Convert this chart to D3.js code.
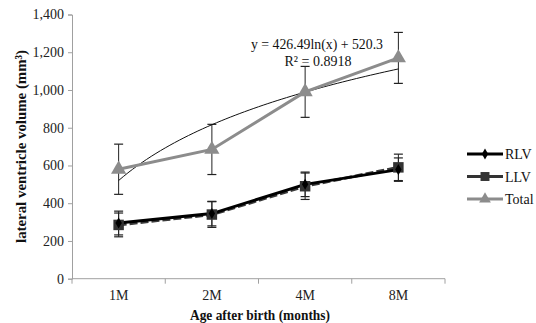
<!DOCTYPE html>
<html><head><meta charset="utf-8">
<script src="https://cdn.jsdelivr.net/npm/d3@7"></script>
<style>body{margin:0;background:#fff}</style>
</head><body>
<svg id="c" width="536" height="323"></svg>
<script>
const categories = ["1M","2M","4M","8M"];
const rlv = [295, 345, 500, 578];
const rlvErr = [63, 65, 65, 62];
const llv = [285, 340, 490, 590];
const llvErr = [63, 68, 70, 70];
const total = [580, 685, 990, 1170];
const totalErr = [133, 133, 135, 135];
const yTicks = [0,200,400,600,800,1000,1200,1400];
const trend = {a: 426.49, b: 520.3, r2: "0.8918"};

(function(){
const svg = d3.select("#c");
const font = "'Liberation Serif', 'Times New Roman', serif";
const mLeft = 72, mRight = 445, mTop = 14.5, mBottom = 278.7;
const x = d3.scaleBand().domain(categories).range([mLeft, mRight]);
const y = d3.scaleLinear().domain([0,1400]).range([mBottom, mTop]);
const cx = c => x(c) + x.bandwidth()/2;

const ya = svg.append("g").attr("transform",`translate(${mLeft},0)`)
  .call(d3.axisLeft(y).tickValues(yTicks).tickSize(4).tickPadding(4).tickFormat(d3.format(",")));
const xa = svg.append("g").attr("transform",`translate(0,${mBottom})`)
  .call(d3.axisBottom(x).tickSize(0).tickPadding(11));
[ya, xa].forEach(g => {
  g.selectAll("path,line").attr("stroke","#a0a0a0");
  g.selectAll("text").attr("font-family",font).attr("font-size",14).attr("fill","#222");
});
xa.select(".domain").attr("d",`M${mLeft},0H${mRight}`);
xa.selectAll(".bt").data(d3.range(categories.length+1)).enter().append("line")
  .attr("x1",i=>mLeft+i*x.bandwidth()).attr("x2",i=>mLeft+i*x.bandwidth())
  .attr("y1",0).attr("y2",5).attr("stroke","#a0a0a0");

svg.append("text").attr("transform","translate(26,146.5) rotate(-90)").attr("text-anchor","middle")
  .attr("font-family",font).attr("font-weight","bold").attr("font-size",15.5).attr("fill","#111")
  .attr("textLength",193).attr("lengthAdjust","spacingAndGlyphs")
  .text("lateral ventricle volume (mm³)");
svg.append("text").attr("x",260).attr("y",320).attr("text-anchor","middle")
  .attr("font-family",font).attr("font-weight","bold").attr("font-size",15).attr("fill","#111")
  .attr("textLength",140).attr("lengthAdjust","spacingAndGlyphs")
  .text("Age after birth (months)");

function errBars(vals, errs, color){
  const g = svg.append("g");
  vals.forEach((v,i)=>{
    const px = cx(categories[i]);
    g.append("line").attr("x1",px).attr("x2",px).attr("y1",y(v+errs[i])).attr("y2",y(v-errs[i])).attr("stroke",color).attr("stroke-width",1);
    [v+errs[i], v-errs[i]].forEach(e=>g.append("line").attr("x1",px-4.5).attr("x2",px+4.5).attr("y1",y(e)).attr("y2",y(e)).attr("stroke",color).attr("stroke-width",1.2));
  });
}
errBars(total,totalErr,"#222");
errBars(llv,llvErr,"#222");
errBars(rlv,rlvErr,"#222");

const tPts = d3.range(1,4.001,0.05).map(t=>[mLeft + (t-0.5)*x.bandwidth(), y(trend.a*Math.log(t)+trend.b)]);
svg.append("path").attr("d",d3.line()(tPts)).attr("fill","none").attr("stroke","#111").attr("stroke-width",1);

const line = d3.line().x((d,i)=>cx(categories[i])).y(d=>y(d));
svg.append("path").attr("d",line(llv)).attr("fill","none").attr("stroke","#3a3a3a").attr("stroke-width",3).attr("stroke-dasharray","8,3");
svg.append("path").attr("d",line(rlv)).attr("fill","none").attr("stroke","#000").attr("stroke-width",3);
svg.append("path").attr("d",line(total)).attr("fill","none").attr("stroke","#8c8c8c").attr("stroke-width",3);

const sq = d3.symbol().type(d3.symbolSquare).size(110);
const di = d3.symbol().type(d3.symbolDiamond).size(35);
const tr = d3.symbol().type(d3.symbolTriangle).size(100);
llv.forEach((v,i)=>svg.append("path").attr("d",sq()).attr("transform",`translate(${cx(categories[i])},${y(v)})`).attr("fill","#333"));
rlv.forEach((v,i)=>svg.append("path").attr("d",di()).attr("transform",`translate(${cx(categories[i])},${y(v)})`).attr("fill","#000"));
total.forEach((v,i)=>svg.append("path").attr("d",tr()).attr("transform",`translate(${cx(categories[i])},${y(v)})`).attr("fill","#8c8c8c"));

svg.append("text").attr("x",317).attr("y",49).attr("text-anchor","middle").attr("font-family",font).attr("font-size",14).attr("fill","#111")
  .attr("textLength",132).attr("lengthAdjust","spacingAndGlyphs")
  .text(`y = ${trend.a}ln(x) + ${trend.b}`);
svg.append("text").attr("x",318).attr("y",66).attr("text-anchor","middle").attr("font-family",font).attr("font-size",14).attr("fill","#111")
  .text(`R² = ${trend.r2}`);

const leg = [
  {name:"RLV", color:"#000", type:d3.symbolDiamond, size:35},
  {name:"LLV", color:"#333", type:d3.symbolSquare, size:80},
  {name:"Total", color:"#8c8c8c", type:d3.symbolTriangle, size:60}
];
leg.forEach((d,i)=>{
  const ly = 154 + i*22.5;
  const g = svg.append("g");
  g.append("line").attr("x1",467).attr("x2",503).attr("y1",ly).attr("y2",ly).attr("stroke",d.color).attr("stroke-width",3);
  g.append("path").attr("d",d3.symbol().type(d.type).size(d.size)()).attr("transform",`translate(485,${ly})`).attr("fill",d.color);
  g.append("text").attr("x",505).attr("y",ly+5).attr("font-family",font).attr("font-size",14).attr("fill","#111").text(d.name);
});
})();
</script>
</body></html>
